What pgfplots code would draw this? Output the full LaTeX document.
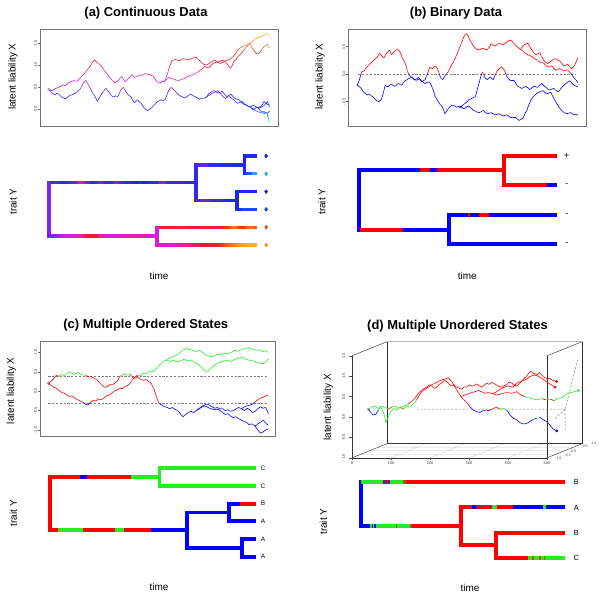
\documentclass[border=0pt]{standalone}
\usepackage{fontspec}
\setmainfont{Liberation Sans}
\usepackage{pgfplots}
\usepackage{pgfplotstable}
\pgfplotsset{compat=1.18}
\newcommand\tickfont{\fontsize{4}{4.5}\selectfont}
\newcommand\labfont{\fontsize{10}{12}\selectfont}
\newcommand\titfont{\fontsize{13}{15}\selectfont\bfseries}
\definecolor{tgreen}{RGB}{40,235,40}
\definecolor{tred}{RGB}{255,0,0}
\definecolor{tblue}{RGB}{0,0,255}
\definecolor{tpurp}{RGB}{150,20,110}
\definecolor{tbrown}{RGB}{160,90,20}
\pgfplotsset{
 colormap={liab}{rgb255(0pt)=(70,215,250) rgb255(20pt)=(30,140,245) rgb255(40pt)=(20,40,240) rgb255(70pt)=(55,40,240) rgb255(85pt)=(120,40,232) rgb255(100pt)=(210,30,225) rgb255(125pt)=(240,30,150) rgb255(145pt)=(245,20,50) rgb255(170pt)=(245,50,30) rgb255(190pt)=(250,130,40) rgb255(220pt)=(250,200,50)},
 colormap={binmap}{rgb255(0pt)=(0,0,255) rgb255(999pt)=(0,0,255) rgb255(1001pt)=(255,0,0) rgb255(2000pt)=(255,0,0)},
 colormap={ordmap}{rgb255(0pt)=(0,0,255) rgb255(899pt)=(0,0,255) rgb255(901pt)=(255,0,0) rgb255(1599pt)=(255,0,0) rgb255(1601pt)=(40,235,40) rgb255(2500pt)=(40,235,40)},
 colormap={statemap}{rgb255(0pt)=(0,0,255) rgb255(49pt)=(0,0,255) rgb255(51pt)=(255,0,0) rgb255(149pt)=(255,0,0) rgb255(151pt)=(40,235,40) rgb255(200pt)=(40,235,40)},
 walkpanel/.style={anchor=south west, scale only axis, xtick=\empty, ytick pos=left, tick align=outside, major tick length=2bp, axis line style={black!55, line width=0.5bp}, tick style={black!60, line width=0.4bp}, yticklabel style={rotate=90, anchor=south, font=\tickfont, text=black!75, inner sep=0.8bp}, clip=false},
 treepanel/.style={anchor=south west, scale only axis, hide axis, y dir=reverse, clip=false},
 wk/.style={mesh, line width=0.6bp, point meta=\thisrow{v}},
 br/.style={mesh, line width=#1, line cap=rect, point meta=\thisrow{v}},
 vb/.style={mesh, line width=#1, line cap=rect, point meta=explicit},
 dsh/.style={black!50, dash pattern=on 2.2bp off 1.6bp, line width=0.5bp},
}
% ---------------- panel (a) data: time, latent value ----------------
\pgfplotstableread{
t v
0 0.45
5 0.42
10 0.43
16 0.47
22 0.49
27 0.52
33 0.55
38 0.53
44 0.59
50 0.62
56 0.65
61 0.63
67 0.66
72 0.72
78 0.78
84 0.85
90 0.93
94 0.98
97 1.04
100 1.08
103 1.12
108 1.07
113 1.04
117 1.00
120 0.97
124 0.90
128 0.85
134 0.78
139 0.70
144 0.65
150 0.59
154 0.63
158 0.66
162 0.71
165 0.74
169 0.68
173 0.62
177 0.66
181 0.70
185 0.75
188 0.78
194 0.72
200 0.74
204 0.76
207 0.78
213 0.77
219 0.81
225 0.79
230 0.78
234 0.76
237 0.74
241 0.68
245 0.62
249 0.60
253 0.59
258 0.64
262 0.62
}\aRD
\pgfplotstableread{
t v
0 0.45
6 0.37
10 0.35
14 0.32
18 0.36
22 0.34
26 0.30
29 0.27
33 0.25
37 0.23
41 0.26
44 0.28
48 0.31
52 0.32
56 0.34
60 0.36
66 0.41
71 0.45
75 0.53
78 0.59
81 0.62
84 0.65
87 0.60
90 0.55
94 0.47
97 0.40
101 0.33
105 0.28
108 0.22
110 0.17
113 0.23
116 0.28
120 0.35
124 0.40
127 0.45
130 0.47
134 0.41
138 0.36
142 0.30
147 0.27
151 0.30
156 0.28
160 0.36
163 0.43
166 0.47
169 0.49
173 0.42
177 0.36
181 0.31
186 0.28
190 0.20
194 0.14
198 0.18
201 0.21
205 0.16
209 0.13
213 0.07
216 0.02
220 -0.01
224 -0.04
228 -0.01
232 0.02
236 0.06
239 0.09
243 0.14
247 0.17
251 0.19
254 0.21
259 0.19
264 0.22
268 0.33
272 0.43
275 0.47
277 0.49
281 0.46
285 0.42
290 0.36
294 0.32
299 0.29
304 0.27
308 0.25
313 0.28
317 0.31
322 0.34
327 0.30
332 0.28
337 0.25
342 0.22
346 0.25
351 0.24
357 0.27
}\aRC
\pgfplotstableread{
t v
357 0.27
361 0.30
365 0.32
370 0.36
374 0.37
379 0.40
383 0.42
387 0.37
391 0.32
396 0.27
400 0.24
405 0.27
410 0.28
414 0.24
419 0.21
424 0.16
428 0.13
433 0.15
438 0.17
443 0.12
448 0.09
452 0.06
457 0.05
462 0.08
466 0.07
471 0.04
475 0.02
}\aCA
\pgfplotstableread{
t v
475 0.02
478 0.05
482 0.07
485 0.12
488 0.17
491 0.14
494 0.11
497 0.10
500 0.09
}\aAa
\pgfplotstableread{
t v
475 0.02
478 -0.03
482 -0.06
485 -0.09
488 -0.11
491 -0.08
494 -0.10
497 -0.20
500 -0.31
}\aAb
\pgfplotstableread{
t v
357 0.27
361 0.33
365 0.37
370 0.40
374 0.42
379 0.39
383 0.36
388 0.38
393 0.40
398 0.34
403 0.28
408 0.31
412 0.34
417 0.29
421 0.24
426 0.22
431 0.21
436 0.16
441 0.11
445 0.09
450 0.07
456 0.04
}\aCB
\pgfplotstableread{
t v
456 0.04
460 0.01
463 -0.02
467 0.01
471 0.04
475 0.03
478 0.02
483 0.05
487 0.07
491 0.12
495 0.17
500 0.05
}\aBa
\pgfplotstableread{
t v
456 0.04
460 0.02
463 0.00
467 -0.03
471 -0.05
475 -0.07
478 -0.08
483 -0.07
487 -0.06
491 -0.08
495 -0.10
500 -0.05
}\aBb
\pgfplotstableread{
t v
262 0.62
265 0.70
268 0.78
271 0.88
274 0.97
277 1.05
279 1.10
283 1.12
287 1.13
292 1.11
297 1.10
301 1.13
306 1.15
310 1.13
315 1.12
320 1.14
325 1.16
329 1.17
334 1.18
338 1.14
342 1.10
346 1.06
350 1.03
354 1.01
357 1.00
362 1.03
366 1.06
370 1.09
375 1.12
380 1.09
385 1.07
390 1.10
395 1.12
400 1.07
404 1.03
408 0.97
412 0.93
416 1.00
419 1.08
424 1.13
428 1.19
433 1.24
438 1.29
443 1.36
448 1.42
452 1.46
456 1.50
459 1.43
463 1.36
467 1.30
471 1.26
475 1.27
478 1.29
482 1.35
487 1.42
491 1.45
495 1.48
498 1.43
500 1.39
}\aDa
\pgfplotstableread{
t v
262 0.62
267 0.67
272 0.72
277 0.70
283 0.68
288 0.66
294 0.65
300 0.67
306 0.69
311 0.72
317 0.75
322 0.77
327 0.78
332 0.81
336 0.83
340 0.86
344 0.89
349 0.93
353 0.97
358 0.95
362 0.94
367 0.99
372 1.04
377 1.06
381 1.07
386 1.05
390 1.04
395 1.07
400 1.10
405 1.12
410 1.13
415 1.17
419 1.21
424 1.28
428 1.35
433 1.39
438 1.42
443 1.44
448 1.45
452 1.48
457 1.51
462 1.55
466 1.59
471 1.62
476 1.64
481 1.66
486 1.67
490 1.70
493 1.73
497 1.71
500 1.68
}\aDb
% ---------------- panel (b) data ----------------
\pgfplotstableread{
t v
0 -0.20
3 -0.15
5 -0.11
8 -0.02
10 0.04
13 0.05
16 0.06
19 0.10
22 0.13
26 0.16
29 0.19
33 0.22
37 0.25
41 0.28
45 0.30
48 0.34
51 0.38
54 0.35
56 0.33
59 0.31
61 0.30
64 0.34
67 0.38
70 0.41
73 0.44
76 0.39
78 0.35
81 0.38
84 0.41
87 0.43
90 0.45
93 0.44
96 0.42
99 0.37
101 0.32
105 0.26
109 0.19
112 0.12
114 0.05
117 0.00
120 -0.04
124 -0.06
127 -0.08
131 -0.10
135 -0.11
140 -0.09
144 -0.10
149 -0.14
154 -0.17
159 -0.15
164 -0.14
168 -0.20
171 -0.26
174 -0.33
177 -0.41
181 -0.46
184 -0.50
188 -0.55
192 -0.58
196 -0.65
199 -0.72
203 -0.67
207 -0.62
211 -0.59
214 -0.56
218 -0.57
222 -0.58
226 -0.60
230 -0.59
}\bRF
\pgfplotstableread{
t v
0 -0.20
4 -0.22
7 -0.24
11 -0.28
14 -0.32
18 -0.35
22 -0.38
25 -0.36
29 -0.37
33 -0.40
37 -0.42
40 -0.45
43 -0.47
46 -0.49
49 -0.50
52 -0.48
55 -0.46
58 -0.38
60 -0.32
62 -0.25
64 -0.20
68 -0.23
71 -0.22
75 -0.19
78 -0.18
82 -0.21
86 -0.22
90 -0.19
94 -0.17
98 -0.19
101 -0.20
105 -0.15
109 -0.12
113 -0.10
116 -0.08
120 -0.07
124 -0.06
128 -0.09
131 -0.11
135 -0.08
139 -0.06
143 -0.10
146 -0.14
150 -0.12
154 -0.10
157 -0.04
160 0.02
163 0.09
165 0.13
168 0.11
171 0.10
174 0.13
177 0.15
180 0.12
183 0.08
186 0.01
188 -0.04
191 -0.08
194 -0.10
197 -0.06
200 -0.02
203 0.01
206 0.04
209 0.09
212 0.13
215 0.18
218 0.22
221 0.27
224 0.32
227 0.38
230 0.44
233 0.50
236 0.56
239 0.62
242 0.68
245 0.72
248 0.74
251 0.70
254 0.65
257 0.60
260 0.56
264 0.51
268 0.47
272 0.45
277 0.44
281 0.46
286 0.47
290 0.45
295 0.44
299 0.49
304 0.55
308 0.53
313 0.51
317 0.54
322 0.56
326 0.55
331 0.53
335 0.56
340 0.59
344 0.61
349 0.62
353 0.58
358 0.53
364 0.49
370 0.45
}\bRE
\pgfplotstableread{
t v
370 0.45
374 0.49
378 0.53
382 0.55
387 0.56
391 0.50
396 0.44
400 0.39
405 0.35
409 0.37
414 0.39
418 0.32
423 0.25
427 0.22
432 0.19
436 0.22
441 0.25
445 0.27
450 0.28
454 0.26
459 0.24
463 0.20
468 0.15
472 0.16
477 0.18
481 0.14
486 0.10
490 0.13
493 0.16
497 0.24
500 0.30
}\bEa
\pgfplotstableread{
t v
370 0.45
374 0.43
378 0.40
383 0.37
387 0.35
391 0.34
396 0.32
400 0.29
405 0.27
409 0.25
414 0.22
418 0.21
423 0.20
427 0.16
432 0.13
436 0.14
441 0.15
445 0.11
450 0.07
454 0.09
459 0.10
463 0.08
468 0.06
472 0.07
477 0.08
481 0.04
485 0.01
488 -0.03
490 -0.05
493 -0.08
495 -0.10
498 -0.12
500 -0.15
}\bEb
\pgfplotstableread{
t v
230 -0.59
233 -0.58
237 -0.58
241 -0.55
245 -0.53
249 -0.50
253 -0.47
257 -0.45
260 -0.44
264 -0.42
268 -0.41
271 -0.32
274 -0.23
277 -0.14
280 -0.05
282 0.00
284 0.04
287 -0.01
289 -0.06
292 -0.08
295 -0.10
299 -0.07
302 -0.05
305 -0.08
308 -0.10
312 -0.03
316 0.04
319 0.07
322 0.10
325 0.12
328 0.13
331 0.10
334 0.07
337 0.00
340 -0.06
344 -0.09
348 -0.12
352 -0.11
355 -0.11
360 -0.17
364 -0.22
369 -0.24
373 -0.26
378 -0.24
382 -0.22
387 -0.25
391 -0.28
396 -0.25
400 -0.22
405 -0.23
409 -0.24
414 -0.20
418 -0.17
423 -0.21
428 -0.24
432 -0.27
437 -0.29
441 -0.27
446 -0.26
450 -0.29
455 -0.32
460 -0.28
464 -0.24
469 -0.20
473 -0.17
478 -0.14
482 -0.12
486 -0.16
491 -0.20
496 -0.22
500 -0.23
}\bFa
\pgfplotstableread{
t v
230 -0.59
234 -0.61
237 -0.60
241 -0.63
245 -0.62
249 -0.59
253 -0.58
257 -0.61
260 -0.63
264 -0.66
268 -0.67
272 -0.69
277 -0.70
281 -0.68
286 -0.66
290 -0.69
295 -0.72
299 -0.71
304 -0.70
308 -0.72
313 -0.74
317 -0.73
322 -0.72
326 -0.74
331 -0.76
335 -0.75
340 -0.74
344 -0.77
349 -0.79
353 -0.78
358 -0.78
362 -0.81
367 -0.84
371 -0.82
376 -0.80
380 -0.72
385 -0.65
389 -0.56
394 -0.47
398 -0.42
403 -0.38
407 -0.35
412 -0.33
416 -0.31
421 -0.30
425 -0.33
430 -0.36
434 -0.34
439 -0.33
443 -0.40
448 -0.47
452 -0.53
457 -0.59
461 -0.64
466 -0.68
470 -0.70
475 -0.72
479 -0.71
484 -0.70
488 -0.72
492 -0.74
496 -0.73
500 -0.75
}\bFb
% ---------------- panel (c) data ----------------
\pgfplotstableread{
t v
0 0.20
6 0.25
12 0.32
18 0.41
24 0.38
30 0.43
36 0.38
42 0.45
48 0.50
54 0.46
60 0.43
66 0.48
72 0.45
78 0.42
85 0.41
91 0.36
97 0.38
104 0.33
110 0.30
116 0.22
122 0.15
128 0.10
134 0.12
140 0.17
146 0.16
152 0.22
158 0.28
163 0.39
168 0.42
174 0.45
180 0.41
186 0.43
192 0.35
198 0.33
204 0.37
210 0.30
216 0.28
222 0.30
228 0.25
234 0.20
240 0.05
243 -0.05
246 -0.15
249 -0.25
252 -0.32
258 -0.36
264 -0.40
270 -0.42
276 -0.45
282 -0.42
288 -0.47
294 -0.50
300 -0.58
306 -0.66
312 -0.60
318 -0.55
324 -0.52
330 -0.55
336 -0.50
}\cRH
\pgfplotstableread{
t v
0 0.20
6 0.15
12 0.10
18 0.08
24 0.02
30 -0.03
36 -0.05
42 -0.10
48 -0.14
54 -0.12
60 -0.18
66 -0.22
72 -0.25
78 -0.28
84 -0.33
90 -0.36
96 -0.28
102 -0.24
108 -0.25
114 -0.20
120 -0.22
126 -0.18
132 -0.12
138 -0.10
144 -0.05
150 0.00
156 0.03
162 0.08
168 0.06
174 0.12
180 0.15
186 0.20
191 0.30
197 0.36
203 0.42
209 0.40
215 0.46
221 0.44
227 0.48
233 0.52
239 0.50
245 0.58
251 0.65
257 0.72
263 0.78
268 0.80
}\cRG
\pgfplotstableread{
t v
268 0.80
275 0.85
282 0.88
290 0.92
298 0.98
305 1.05
313 1.10
320 1.08
328 1.05
336 1.02
344 1.05
352 0.98
360 0.92
368 0.88
376 0.90
384 0.95
392 0.93
400 0.98
408 0.96
416 1.00
424 1.05
432 1.03
440 1.08
448 1.10
456 1.12
464 1.08
472 1.05
480 1.06
488 1.02
494 1.04
500 1.00
}\cGa
\pgfplotstableread{
t v
268 0.80
276 0.76
284 0.80
292 0.75
300 0.78
308 0.82
316 0.78
324 0.80
332 0.74
340 0.70
348 0.62
356 0.52
362 0.50
368 0.58
376 0.65
384 0.72
392 0.75
400 0.78
408 0.80
416 0.76
424 0.82
432 0.85
440 0.88
448 0.82
456 0.80
464 0.78
472 0.75
480 0.72
488 0.70
494 0.75
500 0.84
}\cGb
\pgfplotstableread{
t v
336 -0.50
342 -0.45
348 -0.40
354 -0.36
360 -0.33
366 -0.36
372 -0.40
378 -0.44
384 -0.42
390 -0.46
396 -0.45
402 -0.50
408 -0.48
414 -0.52
420 -0.50
426 -0.46
432 -0.42
439 -0.45
}\cHI
\pgfplotstableread{
t v
439 -0.45
446 -0.40
452 -0.38
458 -0.36
464 -0.33
470 -0.28
476 -0.22
482 -0.18
488 -0.16
494 -0.12
500 -0.10
}\cIa
\pgfplotstableread{
t v
439 -0.45
446 -0.50
452 -0.44
458 -0.48
464 -0.55
470 -0.52
476 -0.45
482 -0.40
488 -0.44
494 -0.42
500 -0.58
}\cIb
\pgfplotstableread{
t v
336 -0.50
342 -0.46
348 -0.42
354 -0.38
360 -0.40
366 -0.44
372 -0.46
378 -0.48
384 -0.46
390 -0.50
396 -0.55
402 -0.60
408 -0.58
414 -0.64
420 -0.68
426 -0.66
432 -0.70
438 -0.74
444 -0.78
450 -0.80
456 -0.86
462 -0.84
470 -0.90
}\cHJ
\pgfplotstableread{
t v
470 -0.90
476 -1.00
482 -1.08
488 -1.05
494 -1.00
500 -0.97
}\cJa
\pgfplotstableread{
t v
470 -0.90
476 -0.84
482 -0.80
488 -0.75
494 -0.82
500 -0.88
}\cJb
% ---------------- panel (d) data: time, value, state (0=A blue,1=B red,2=C green) ----------------
\pgfplotstableread{
t v s
41.9 0.19 0
47.9 0.11 0
54.7 0.05 0
61.5 0.07 0
67.5 0.17 2
73.5 0.24 2
80.3 0.13 2
84.6 -0.03 2
87.2 -0.14 2
93.2 0.01 2
99.1 0.13 2
106.0 0.21 2
114.5 0.17 2
123.1 0.24 1
131.6 0.19 2
140.2 0.27 2
148.7 0.24 2
157.3 0.32 2
165.8 0.42 1
172.6 0.54 1
178.6 0.62 1
187.2 0.68 1
195.7 0.73 1
204.3 0.79 1
212.8 0.83 1
221.4 0.87 1
229.9 0.91 1
238.5 0.93 1
247.0 0.96 1
255.6 0.87 1
264.1 0.73 1
272.6 0.60 1
279.5 0.50 1
}\dRK
\pgfplotstableread{
t v s
41.9 0.19 2
50.4 0.24 2
59.0 0.27 2
67.5 0.21 2
76.1 0.27 2
84.6 0.24 2
93.2 0.19 1
101.7 0.24 2
110.3 0.27 2
118.8 0.21 2
127.4 0.25 2
135.9 0.27 2
144.4 0.32 1
153.0 0.38 1
161.5 0.46 1
170.1 0.58 1
178.6 0.65 1
185.0 0.70 1
191.5 0.73 1
198.0 0.79 1
204.3 0.76 1
210.7 0.70 1
217.1 0.73 1
223.5 0.80 1
229.9 0.83 1
236.3 0.90 1
242.7 0.87 1
249.1 0.80 1
255.6 0.76 1
262.0 0.79 1
268.4 0.73 1
274.8 0.71 1
281.2 0.68 1
287.6 0.74 1
294.0 0.73 1
300.4 0.79 1
306.8 0.76 1
313.2 0.77 1
319.7 0.81 1
326.1 0.77 1
332.5 0.73 1
338.9 0.78 1
345.3 0.83 1
351.7 0.80 1
358.1 0.85 1
364.5 0.82 1
370.9 0.78 1
377.3 0.75 1
383.8 0.73 1
390.2 0.77 1
396.6 0.79 1
403.0 0.86 1
409.4 0.83 1
415.8 0.79 1
422.2 0.76 1
428.6 0.82 1
435.0 0.87 1
441.4 0.95 1
447.9 1.01 1
453.0 1.07 1
458.1 1.12 1
463.6 1.08 1
469.2 1.06 1
474.7 1.04 1
480.3 1.09 1
485.4 1.04 1
490.6 0.99 1
495.7 0.96 1
500.9 0.93 1
506.4 0.95 1
512.0 0.91 1
518.4 0.89 1
524.8 0.87 1
}\dRa
\pgfplotstableread{
t v s
279.5 0.50 1
287.2 0.42 1
295.7 0.34 1
303.4 0.24 0
311.1 0.17 0
319.7 0.13 0
328.2 0.11 0
336.8 0.16 0
345.3 0.17 1
353.8 0.17 1
362.4 0.21 1
370.9 0.24 1
379.5 0.19 2
388.0 0.21 2
396.6 0.17 0
405.1 0.05 0
413.7 -0.03 0
422.2 -0.07 0
430.8 -0.14 0
439.3 -0.17 0
447.9 -0.16 0
456.4 -0.11 0
465.0 -0.06 0
473.5 -0.03 2
482.1 -0.01 0
490.6 -0.07 0
499.1 -0.11 0
507.7 -0.20 0
516.2 -0.30 0
524.8 -0.34 0
}\dKb
\pgfplotstableread{
t v s
279.5 0.50 1
289.7 0.54 1
298.3 0.57 1
306.8 0.60 1
315.4 0.62 1
323.9 0.65 1
332.5 0.62 1
341.0 0.58 1
349.6 0.60 1
361.5 0.57 1
}\dKL
\pgfplotstableread{
t v s
361.5 0.57 1
370.9 0.62 1
379.5 0.68 1
389.7 0.73 1
400.9 0.76 1
412.0 0.73 1
422.2 0.83 1
432.5 0.87 1
443.6 0.91 1
454.7 0.98 1
465.0 1.03 1
475.2 1.01 1
486.3 0.95 1
497.4 0.87 1
507.7 0.81 1
516.2 0.76 1
520.5 0.73 1
}\dLc
\pgfplotstableread{
t v s
361.5 0.57 1
370.9 0.54 1
383.8 0.57 1
396.6 0.60 1
409.4 0.58 1
422.2 0.62 1
432.5 0.54 1
443.6 0.50 2
456.4 0.46 2
465.0 0.44 2
475.2 0.42 2
486.3 0.45 1
497.4 0.42 2
507.7 0.44 1
518.0 0.40 2
529.1 0.46 2
540.2 0.48 2
550.4 0.57 2
560.7 0.60 2
571.8 0.62 2
580.3 0.65 2
}\dLd
\begin{document}
\begin{tikzpicture}[x=1bp,y=1bp]
\useasboundingbox (0,0) rectangle (604,600);
% ---- text ----
\node[font=\titfont] at (146,586.7) {(a) Continuous Data};
\node[font=\titfont] at (456,586.7) {(b) Binary Data};
\node[font=\titfont] at (145.8,275) {(c) Multiple Ordered States};
\node[font=\titfont] at (457.5,274.3) {(d) Multiple Unordered States};
\node[font=\labfont, rotate=90] at (13,523.3) {latent liability X};
\node[font=\labfont, rotate=90] at (320,523.3) {latent liability X};
\node[font=\labfont, rotate=90] at (11.3,209.2) {latent liability X};
\node[font=\labfont, rotate=90] at (328.3,192.5) {latent liability X};
\node[font=\labfont, rotate=90] at (13,398.3) {trait Y};
\node[font=\labfont, rotate=90] at (321.7,398.3) {trait Y};
\node[font=\labfont, rotate=90] at (13.3,86.7) {trait Y};
\node[font=\labfont, rotate=90] at (323.3,78.3) {trait Y};
\node[font=\labfont] at (159,324.3) {time};
\node[font=\labfont] at (467.3,324.3) {time};
\node[font=\labfont] at (159,13.3) {time};
\node[font=\labfont] at (470,12.3) {time};
% ======== (a) walks ========
\begin{axis}[walkpanel, at={(40bp,474bp)}, width=238.3bp, height=96.7bp,
  xmin=-20, xmax=520, ymin=-0.39, ymax=1.82,
  ytick={0,0.5,1,1.5}, yticklabels={0.0,0.5,1.0,1.5},
  colormap name=liab, point meta min=-0.4, point meta max=1.8]
\addplot[wk] table[x=t,y=v]{\aRC};
\addplot[wk] table[x=t,y=v]{\aRD};
\addplot[wk] table[x=t,y=v]{\aCA};
\addplot[wk] table[x=t,y=v]{\aCB};
\addplot[wk] table[x=t,y=v]{\aAa};
\addplot[wk] table[x=t,y=v]{\aAb};
\addplot[wk] table[x=t,y=v]{\aBa};
\addplot[wk] table[x=t,y=v]{\aBb};
\addplot[wk] table[x=t,y=v]{\aDa};
\addplot[wk] table[x=t,y=v]{\aDb};
\addplot[only marks, mark=o, mark size=1.1bp, black!45] coordinates {(0,0.45)};
\end{axis}
% ======== (a) tree ========
\begin{axis}[treepanel, at={(40bp,344bp)}, width=240bp, height=110bp,
  xmin=-21.8, xmax=560.7, ymin=0.438, ymax=6.618,
  colormap name=liab, point meta min=-0.4, point meta max=1.8]
\addplot[vb=3.3bp] coordinates {(0,2.5)[0.45] (0,5.5)[0.45]};
\addplot[vb=3.3bp] coordinates {(357,1.5)[0.27] (357,3.5)[0.27]};
\addplot[vb=3.3bp] coordinates {(475,1)[0.02] (475,2)[0.02]};
\addplot[vb=3.3bp] coordinates {(456,3)[0.04] (456,4)[0.04]};
\addplot[vb=3.3bp] coordinates {(262,5)[0.62] (262,6)[0.62]};
\addplot[br=3.3bp] table[x=t, y expr=2.5]{\aRC};
\addplot[br=3.3bp] table[x=t, y expr=5.5]{\aRD};
\addplot[br=3.3bp] table[x=t, y expr=1.5]{\aCA};
\addplot[br=3.3bp] table[x=t, y expr=3.5]{\aCB};
\addplot[br=3.3bp] table[x=t, y expr=1]{\aAa};
\addplot[br=3.3bp] table[x=t, y expr=2]{\aAb};
\addplot[br=3.3bp] table[x=t, y expr=3]{\aBa};
\addplot[br=3.3bp] table[x=t, y expr=4]{\aBb};
\addplot[br=3.3bp] table[x=t, y expr=5]{\aDa};
\addplot[br=3.3bp] table[x=t, y expr=6]{\aDb};
\addplot[scatter, only marks, mark=diamond*, mark size=2bp, point meta=explicit]
 coordinates {(527,1)[0.09] (527,2)[-0.31] (527,3)[0.05] (527,4)[-0.05] (527,5)[1.39] (527,6)[1.68]};
\end{axis}
% ======== (b) walks ========
\begin{axis}[walkpanel, at={(348.3bp,474bp)}, width=238.3bp, height=96.7bp,
  xmin=-20, xmax=520, ymin=-0.942, ymax=0.816,
  ytick={-0.5,0,0.5}, yticklabels={-0.5,0.0,0.5},
  colormap name=binmap, point meta min=-1, point meta max=1]
\addplot[dsh] coordinates {(3,0) (497,0)};
\addplot[wk] table[x=t,y=v]{\bRE};
\addplot[wk] table[x=t,y=v]{\bRF};
\addplot[wk] table[x=t,y=v]{\bEa};
\addplot[wk] table[x=t,y=v]{\bEb};
\addplot[wk] table[x=t,y=v]{\bFa};
\addplot[wk] table[x=t,y=v]{\bFb};
\end{axis}
% ======== (b) tree ========
\begin{axis}[treepanel, at={(350bp,344bp)}, width=240bp, height=110bp,
  xmin=-23.8, xmax=589.4, ymin=0.672, ymax=4.396,
  colormap name=binmap, point meta min=-1, point meta max=1]
\addplot[vb=4bp] coordinates {(0,1.5)[-0.2] (0,3.5)[-0.2]};
\addplot[vb=4bp] coordinates {(370,1)[0.45] (370,2)[0.45]};
\addplot[vb=4bp] coordinates {(230,3)[-0.59] (230,4)[-0.59]};
\addplot[br=4bp] table[x=t, y expr=1.5]{\bRE};
\addplot[br=4bp] table[x=t, y expr=3.5]{\bRF};
\addplot[br=4bp] table[x=t, y expr=1]{\bEa};
\addplot[br=4bp] table[x=t, y expr=2]{\bEb};
\addplot[br=4bp] table[x=t, y expr=3]{\bFa};
\addplot[br=4bp] table[x=t, y expr=4]{\bFb};
\node[font=\fontsize{9}{10}\selectfont] at (axis cs:530,1) {+};
\node[font=\fontsize{9}{10}\selectfont] at (axis cs:530,2) {-};
\node[font=\fontsize{9}{10}\selectfont] at (axis cs:530,3) {-};
\node[font=\fontsize{9}{10}\selectfont] at (axis cs:530,4) {-};
\end{axis}
% ======== (c) walks ========
\begin{axis}[walkpanel, at={(40bp,163.3bp)}, width=235bp, height=95bp,
  xmin=-18.9, xmax=515.1, ymin=-1.172, ymax=1.273,
  ytick={-1,-0.5,0,0.5,1}, yticklabels={-1.0,-0.5,0.0,0.5,1.0},
  colormap name=ordmap, point meta min=-1.2, point meta max=1.3]
\addplot[dsh] coordinates {(0,0.39) (500,0.39)};
\addplot[dsh] coordinates {(0,-0.31) (500,-0.31)};
\addplot[wk] table[x=t,y=v]{\cRH};
\addplot[wk] table[x=t,y=v]{\cRG};
\addplot[wk] table[x=t,y=v]{\cGa};
\addplot[wk] table[x=t,y=v]{\cGb};
\addplot[wk] table[x=t,y=v]{\cHI};
\addplot[wk] table[x=t,y=v]{\cHJ};
\addplot[wk] table[x=t,y=v]{\cIa};
\addplot[wk] table[x=t,y=v]{\cIb};
\addplot[wk] table[x=t,y=v]{\cJa};
\addplot[wk] table[x=t,y=v]{\cJb};
\addplot[only marks, mark=o, mark size=1.3bp, black!50] coordinates {(0,0.2)};
\end{axis}
% ======== (c) tree ========
\begin{axis}[treepanel, at={(40bp,32bp)}, width=240bp, height=110bp,
  xmin=-24.5, xmax=563.7, ymin=0.417, ymax=6.639,
  colormap name=ordmap, point meta min=-1.2, point meta max=1.3]
\addplot[vb=3.7bp] coordinates {(0,1.5)[0.2] (0,4.5)[0.2]};
\addplot[vb=3.7bp] coordinates {(268,1)[0.8] (268,2)[0.8]};
\addplot[vb=3.7bp] coordinates {(336,3.5)[-0.5] (336,5.5)[-0.5]};
\addplot[vb=3.7bp] coordinates {(439,3)[-0.45] (439,4)[-0.45]};
\addplot[vb=3.7bp] coordinates {(470,5)[-0.9] (470,6)[-0.9]};
\addplot[br=3.7bp] table[x=t, y expr=1.5]{\cRG};
\addplot[br=3.7bp] table[x=t, y expr=4.5]{\cRH};
\addplot[br=3.7bp] table[x=t, y expr=1]{\cGa};
\addplot[br=3.7bp] table[x=t, y expr=2]{\cGb};
\addplot[br=3.7bp] table[x=t, y expr=3.5]{\cHI};
\addplot[br=3.7bp] table[x=t, y expr=5.5]{\cHJ};
\addplot[br=3.7bp] table[x=t, y expr=3]{\cIa};
\addplot[br=3.7bp] table[x=t, y expr=4]{\cIb};
\addplot[br=3.7bp] table[x=t, y expr=5]{\cJa};
\addplot[br=3.7bp] table[x=t, y expr=6]{\cJb};
\node[font=\fontsize{6.5}{7}\selectfont] at (axis cs:522,1) {C};
\node[font=\fontsize{6.5}{7}\selectfont] at (axis cs:522,2) {C};
\node[font=\fontsize{6.5}{7}\selectfont] at (axis cs:522,3) {B};
\node[font=\fontsize{6.5}{7}\selectfont] at (axis cs:522,4) {A};
\node[font=\fontsize{6.5}{7}\selectfont] at (axis cs:522,5) {A};
\node[font=\fontsize{6.5}{7}\selectfont] at (axis cs:522,6) {A};
\end{axis}
% ======== (d) 3D-style walks ========
\begin{axis}[anchor=south west, scale only axis, hide axis, clip=false,
  at={(340bp,130bp)}, width=260bp, height=135bp,
  xmin=-30.77, xmax=635.9, ymin=-1.299, ymax=2.01,
  colormap name=statemap, point meta min=0, point meta max=2, unbounded coords=jump]
\addplot[black!22, line width=0.3bp] coordinates {(100,-1) (189.7,-0.655) (nan,nan) (200,-1) (289.7,-0.655) (nan,nan) (300,-1) (389.7,-0.655) (nan,nan) (400,-1) (489.7,-0.655) (nan,nan) (22.4,-0.914) (522.4,-0.914) (nan,nan) (44.9,-0.828) (544.9,-0.828) (nan,nan) (67.3,-0.741) (567.3,-0.741)};
\addplot[black!80, line width=0.45bp] coordinates {(0,1.5) (0,-1) (500,-1) (500,1.5)};
\addplot[black!80, line width=0.45bp] coordinates {(0,1.5) (89.7,1.845) (589.7,1.845) (500,1.5)};
\addplot[black!80, line width=0.45bp] coordinates {(89.7,1.845) (89.7,-0.655) (589.7,-0.655) (589.7,1.845)};
\addplot[black!80, line width=0.45bp] coordinates {(0,-1) (89.7,-0.655) (nan,nan) (500,-1) (589.7,-0.655)};
\addplot[black!70, line width=0.35bp] coordinates {(-8,1.5) (0,1.5) (nan,nan) (-8,1) (0,1) (nan,nan) (-8,0.5) (0,0.5) (nan,nan) (-8,0) (0,0) (nan,nan) (-8,-0.5) (0,-0.5) (nan,nan) (-8,-1) (0,-1)};
\addplot[black!70, line width=0.35bp] coordinates {(0,-1) (0,-1.05) (nan,nan) (100,-1) (100,-1.05) (nan,nan) (200,-1) (200,-1.05) (nan,nan) (300,-1) (300,-1.05) (nan,nan) (400,-1) (400,-1.05) (nan,nan) (500,-1) (500,-1.05)};
\node[font=\tickfont, text=black!75, rotate=90] at (axis cs:-22,1.5) {1.5};
\node[font=\tickfont, text=black!75, rotate=90] at (axis cs:-22,1) {1.0};
\node[font=\tickfont, text=black!75, rotate=90] at (axis cs:-22,0.5) {0.5};
\node[font=\tickfont, text=black!75, rotate=90] at (axis cs:-22,0) {0.0};
\node[font=\tickfont, text=black!75, rotate=90] at (axis cs:-22,-0.5) {-0.5};
\node[font=\tickfont, text=black!75, rotate=90] at (axis cs:-22,-1) {-1.0};
\node[font=\tickfont, text=black!75] at (axis cs:0,-1.13) {0};
\node[font=\tickfont, text=black!75] at (axis cs:100,-1.13) {100};
\node[font=\tickfont, text=black!75] at (axis cs:200,-1.13) {200};
\node[font=\tickfont, text=black!75] at (axis cs:300,-1.13) {300};
\node[font=\tickfont, text=black!75] at (axis cs:400,-1.13) {400};
\node[font=\tickfont, text=black!75] at (axis cs:500,-1.13) {500};
\node[font=\fontsize{3.5}{4}\selectfont, text=black!75] at (axis cs:529,-1.01) {-1.0};
\node[font=\fontsize{3.5}{4}\selectfont, text=black!75] at (axis cs:553,-0.93) {-0.5};
\node[font=\fontsize{3.5}{4}\selectfont, text=black!75] at (axis cs:568,-0.83) {0.0};
\node[font=\fontsize{3.5}{4}\selectfont, text=black!75] at (axis cs:598,-0.72) {0.5};
\node[font=\fontsize{3.5}{4}\selectfont, text=black!75] at (axis cs:620,-0.64) {1.0};
\addplot[dsh] coordinates {(165.9,0.19) (546.2,0.19) (578.7,1.40)};
\addplot[dsh] coordinates {(546.2,0.19) (546.2,-0.36) (nan,nan) (546.2,0.19) (520.5,-0.03)};
\addplot[mesh, shader=flat corner, line width=0.6bp, point meta=\thisrow{s}] table[x=t,y=v]{\dRK};
\addplot[mesh, shader=flat corner, line width=0.6bp, point meta=\thisrow{s}] table[x=t,y=v]{\dRa};
\addplot[mesh, shader=flat corner, line width=0.6bp, point meta=\thisrow{s}] table[x=t,y=v]{\dKb};
\addplot[mesh, shader=flat corner, line width=0.6bp, point meta=\thisrow{s}] table[x=t,y=v]{\dKL};
\addplot[mesh, shader=flat corner, line width=0.6bp, point meta=\thisrow{s}] table[x=t,y=v]{\dLc};
\addplot[mesh, shader=flat corner, line width=0.6bp, point meta=\thisrow{s}] table[x=t,y=v]{\dLd};
\addplot[only marks, mark=*, mark size=1.2bp, tred] coordinates {(524.8,0.87) (520.5,0.73)};
\addplot[only marks, mark=*, mark size=1.2bp, tblue] coordinates {(524.8,-0.34)};
\addplot[only marks, mark=*, mark size=1.2bp, tgreen] coordinates {(580.3,0.65)};
\addplot[only marks, mark=o, mark size=1.3bp, black!50] coordinates {(41.9,0.19)};
\end{axis}
% ======== (d) tree ========
\begin{axis}[treepanel, at={(350bp,32bp)}, width=240bp, height=96bp,
  xmin=-27, xmax=561.3, ymin=0.59, ymax=4.41]
\addplot[tblue, line width=4bp, line cap=rect] coordinates {(0,1) (0,2.75)};
\addplot[tred, line width=4bp, line cap=rect] coordinates {(246,2) (246,3.5)};
\addplot[tred, line width=4bp, line cap=rect] coordinates {(331,3) (331,4)};
% root -> tip1 (B)
\addplot[tgreen, line width=4bp] coordinates {(0,1) (55,1)};
\addplot[tpurp, line width=4bp] coordinates {(55,1) (71,1)};
\addplot[tgreen, line width=4bp] coordinates {(71,1) (104,1)};
\addplot[tbrown, line width=4bp] coordinates {(104,1) (110,1)};
\addplot[tred, line width=4bp] coordinates {(110,1) (500,1)};
% root -> K
\addplot[tblue, line width=4bp] coordinates {(0,2.75) (22,2.75)};
\addplot[tgreen, line width=4bp] coordinates {(22,2.75) (26,2.75)};
\addplot[tblue, line width=4bp] coordinates {(26,2.75) (30,2.75)};
\addplot[tgreen, line width=4bp] coordinates {(30,2.75) (33,2.75)};
\addplot[tblue, line width=4bp] coordinates {(33,2.75) (37,2.75)};
\addplot[tgreen, line width=4bp] coordinates {(37,2.75) (120,2.75)};
\addplot[tbrown, line width=4bp] coordinates {(86,2.75) (89,2.75)};
\addplot[tbrown, line width=4bp] coordinates {(120,2.75) (126,2.75)};
\addplot[tred, line width=4bp] coordinates {(126,2.75) (246,2.75)};
% K -> tip2 (A)
\addplot[tred, line width=4bp] coordinates {(246,2) (271,2)};
\addplot[tblue, line width=4bp] coordinates {(271,2) (283,2)};
\addplot[tpurp, line width=4bp] coordinates {(283,2) (290,2)};
\addplot[tred, line width=4bp] coordinates {(290,2) (320,2)};
\addplot[tgreen, line width=4bp] coordinates {(320,2) (334,2)};
\addplot[tred, line width=4bp] coordinates {(334,2) (373,2)};
\addplot[tblue, line width=4bp] coordinates {(373,2) (446,2)};
\addplot[tgreen, line width=4bp] coordinates {(446,2) (453,2)};
\addplot[tblue, line width=4bp] coordinates {(453,2) (500,2)};
% K -> L, L -> tips
\addplot[tred, line width=4bp] coordinates {(246,3.5) (331,3.5)};
\addplot[tred, line width=4bp] coordinates {(331,3) (500,3)};
\addplot[tred, line width=4bp] coordinates {(331,4) (410,4)};
\addplot[tgreen, line width=4bp] coordinates {(410,4) (500,4)};
\addplot[tbrown, line width=4bp] coordinates {(420,4) (424,4)};
\addplot[tbrown, line width=4bp] coordinates {(436,4) (440,4)};
\addplot[tbrown, line width=4bp] coordinates {(448,4) (452,4)};
\node[font=\fontsize{7.5}{8}\selectfont] at (axis cs:528,1) {B};
\node[font=\fontsize{7.5}{8}\selectfont] at (axis cs:528,2) {A};
\node[font=\fontsize{7.5}{8}\selectfont] at (axis cs:528,3) {B};
\node[font=\fontsize{7.5}{8}\selectfont] at (axis cs:528,4) {C};
\end{axis}
\end{tikzpicture}
\end{document}
